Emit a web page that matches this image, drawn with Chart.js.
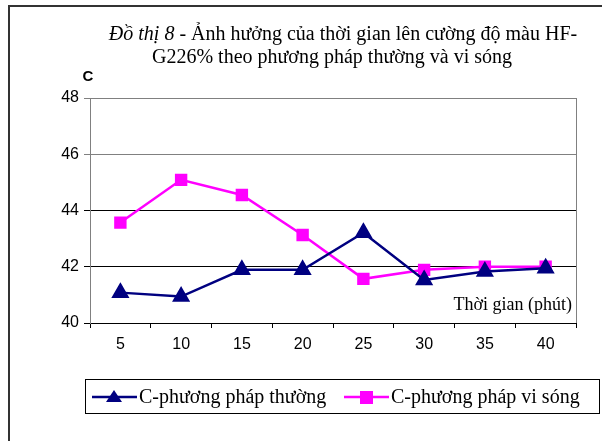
<!DOCTYPE html>
<html>
<head>
<meta charset="utf-8">
<script src="https://cdn.jsdelivr.net/npm/chart.js@4.4.1/dist/chart.umd.min.js"></script>
<style>
  html, body { margin: 0; padding: 0; background: #fff; }
  #wrap { width: 602px; height: 441px; position: relative; }
</style>
</head>
<body>
<div id="wrap"><canvas id="myChart" width="602" height="441"></canvas></div>
<script>
// data
var times = ['5', '10', '15', '20', '25', '30', '35', '40'];
var cThuong = [41.08, 40.94, 41.89, 41.89, 43.21, 41.53, 41.83, 41.95];
var cViSong = [43.57, 45.09, 44.55, 43.13, 41.57, 41.89, 42.0, 42.0];
var yTicks = [40, 42, 44, 46, 48];

var serif = '"Liberation Serif", "Times New Roman", serif';
var sans = '"Liberation Sans", Arial, sans-serif';

var extras = {
    id: 'extras',
    afterDraw: function (chart) {
        var ctx = chart.ctx;
        var area = chart.chartArea;
        ctx.save();

        // outer frame
        ctx.strokeStyle = '#333';
        ctx.lineWidth = 2;
        ctx.strokeRect(9, 6, 700, 500);

        // right border of plot
        ctx.strokeStyle = '#808080';
        ctx.lineWidth = 1;
        ctx.beginPath();
        ctx.moveTo(Math.round(area.right) + 0.5, area.top);
        ctx.lineTo(Math.round(area.right) + 0.5, area.bottom);
        ctx.stroke();

        // title, first part italic
        ctx.fillStyle = '#000';
        ctx.textBaseline = 'middle';
        ctx.textAlign = 'left';
        var p1 = 'Đồ thị 8';
        var p2 = ' - Ảnh hưởng của thời gian lên cường độ màu HF-';
        ctx.font = 'italic 20px ' + serif;
        var w1 = ctx.measureText(p1).width;
        ctx.font = '20px ' + serif;
        var w2 = ctx.measureText(p2).width;
        var x0 = 343 - (w1 + w2) / 2;
        ctx.font = 'italic 20px ' + serif;
        ctx.fillText(p1, x0, 35);
        ctx.font = '20px ' + serif;
        ctx.fillText(p2, x0 + w1, 35);
        ctx.textAlign = 'center';
        ctx.fillText('G226% theo phương pháp thường và vi sóng', 332, 58);

        // axis titles
        ctx.font = 'bold 15px ' + sans;
        ctx.fillText('C', 88, 77);
        ctx.font = '18px ' + serif;
        ctx.textAlign = 'right';
        ctx.fillText('Thời gian (phút)', area.right - 4, 305);

        // legend
        ctx.strokeStyle = '#000';
        ctx.lineWidth = 1;
        ctx.strokeRect(85.5, 379.5, 514, 34);
        var ds = chart.data.datasets;
        var starts = [92, 344];
        ctx.textAlign = 'left';
        ctx.font = '20px ' + serif;
        for (var i = 0; i < ds.length; i++) {
            var lx = starts[i];
            var ly = 397;
            ctx.strokeStyle = ds[i].borderColor;
            ctx.lineWidth = 2.5;
            ctx.beginPath();
            ctx.moveTo(lx, ly);
            ctx.lineTo(lx + 45, ly);
            ctx.stroke();
            ctx.fillStyle = ds[i].backgroundColor;
            ctx.beginPath();
            if (ds[i].pointStyle === 'triangle') {
                ctx.moveTo(lx + 22, ly - 7);
                ctx.lineTo(lx + 30, ly + 5);
                ctx.lineTo(lx + 14, ly + 5);
                ctx.closePath();
            } else {
                ctx.rect(lx + 16, ly - 6, 13, 13);
            }
            ctx.fill();
            ctx.fillStyle = '#000';
            ctx.fillText(ds[i].label, lx + 47, ly + 1);
        }
        ctx.restore();
    }
};

var ctx = document.getElementById('myChart');
var myChart = new Chart(ctx, {
    type: 'line',
    data: {
        labels: times,
        datasets: [{
            label: 'C-phương pháp thường',
            data: cThuong,
            borderColor: '#000080',
            backgroundColor: '#000080',
            borderWidth: 2.5,
            pointStyle: 'triangle',
            pointRadius: 8,
            pointHoverRadius: 8,
            tension: 0
        }, {
            label: 'C-phương pháp vi sóng',
            data: cViSong,
            borderColor: '#FF00FF',
            backgroundColor: '#FF00FF',
            borderWidth: 2.5,
            pointStyle: 'rect',
            pointRadius: 7,
            pointHoverRadius: 7,
            tension: 0
        }]
    },
    options: {
        responsive: false,
        animation: false,
        layout: {
            padding: { top: 98, left: 50, right: 26, bottom: 88 }
        },
        plugins: {
            legend: { display: false },
            title: { display: false },
            tooltip: { enabled: false }
        },
        scales: {
            x: {
                offset: true,
                afterFit: function (s) { s.height = 30; },
                grid: {
                    offset: true,
                    drawOnChartArea: false,
                    drawTicks: true,
                    tickLength: 5,
                    color: '#000'
                },
                border: { color: '#000', width: 1 },
                ticks: {
                    color: '#000',
                    font: { family: sans, size: 16 },
                    padding: 7,
                    maxRotation: 0
                }
            },
            y: {
                min: 40,
                max: 48,
                afterFit: function (s) { s.width = 40; },
                afterBuildTicks: function (s) {
                    s.ticks = yTicks.map(function (v) { return { value: v }; });
                },
                grid: {
                    color: function (c) {
                        return c.tick && c.tick.value >= 46 ? '#808080' : '#000';
                    },
                    tickLength: 6
                },
                border: { color: '#808080', width: 1 },
                ticks: {
                    color: '#000',
                    font: { family: sans, size: 16 },
                    padding: 5
                }
            }
        }
    },
    plugins: [extras]
});
</script>
</body>
</html>
